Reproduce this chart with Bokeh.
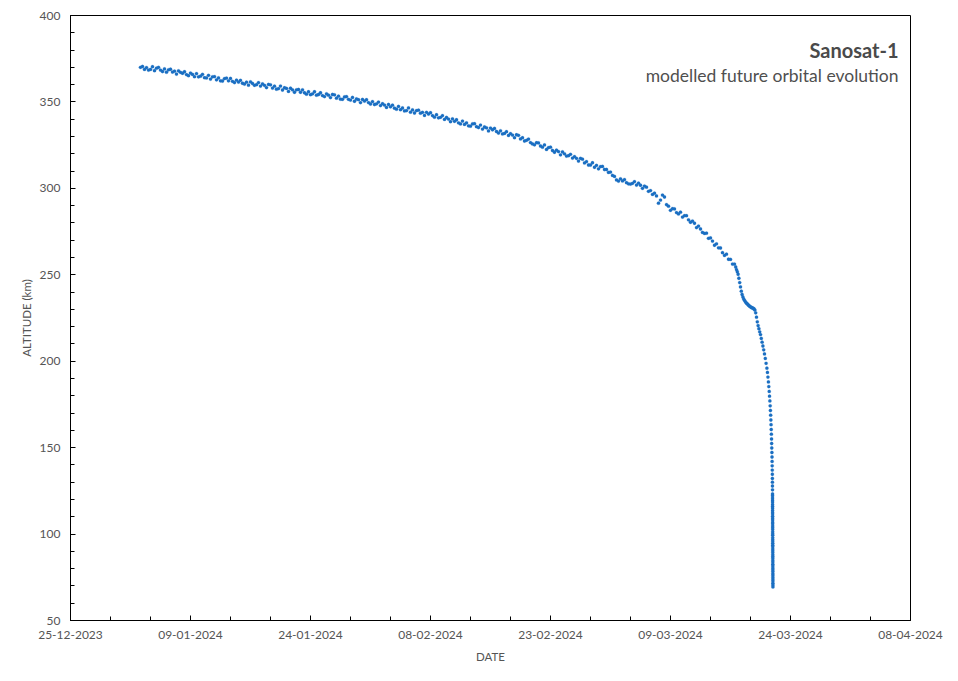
import datetime as dt
from bokeh.plotting import figure
from bokeh.models import FixedTicker, DatetimeTickFormatter, Label, ColumnDataSource, Range1d
from bokeh.embed import file_html
from bokeh.resources import INLINE

# ---------------- data ----------------
title_text = "Sanosat-1"
subtitle_text = "modelled future orbital evolution"
x_label = "DATE"
y_label = "ALTITUDE (km)"

x_tick_labels = ["25-12-2023", "09-01-2024", "24-01-2024", "08-02-2024",
                 "23-02-2024", "09-03-2024", "24-03-2024", "08-04-2024"]
y_ticks = [50, 100, 150, 200, 250, 300, 350, 400]

# modelled altitude (km), one value every 6 hours from 2024-01-02 18:00
main_start = "2024-01-02 18:00"
main_step_hours = 6
main_alt = [
    370.0,
    370.5, 368.8, 369.9, 368.4,
    368.8, 370.4, 368.1, 369.5,
    370.0, 368.4, 367.6, 369.1,
    367.2, 368.6, 368.9, 367.3,
    367.8, 366.1, 368.0, 367.1,
    366.6, 367.5, 365.8, 365.2,
    366.7, 365.9, 364.6, 366.4,
    364.5, 364.9, 366.0, 364.0,
    363.9, 365.4, 363.2, 364.5,
    364.7, 362.8, 363.9, 362.2,
    362.1, 363.5, 363.8, 362.2,
    363.6, 361.9, 361.2, 362.6,
    361.5, 362.5, 360.8, 360.3,
    361.4, 359.7, 361.6, 360.7,
    359.6, 360.0, 361.2, 359.2,
    360.4, 359.6, 358.3, 360.1,
    359.9, 358.0, 359.1, 357.4,
    357.7, 359.2, 356.9, 358.2,
    357.8, 356.1, 357.9, 357.0,
    355.6, 357.0, 357.2, 355.6,
    357.0, 355.3, 354.5, 355.9,
    354.2, 354.7, 355.9, 353.9,
    354.3, 355.3, 353.7, 353.1,
    354.7, 353.9, 352.5, 354.3,
    354.1, 352.2, 353.3, 351.6,
    351.5, 352.9, 353.1, 351.5,
    351.1, 352.6, 350.4, 351.7,
    351.3, 349.6, 351.4, 350.5,
    351.3, 349.6, 348.8, 350.2,
    348.5, 348.9, 349.9, 347.9,
    349.0, 348.2, 346.8, 348.5,
    347.2, 348.1, 346.4, 345.8,
    347.4, 345.5, 346.5, 344.8,
    345.0, 346.5, 344.1, 345.4,
    343.6, 345.0, 345.2, 343.5,
    344.0, 342.2, 344.0, 343.0,
    343.8, 342.1, 341.2, 342.6,
    340.8, 341.1, 342.1, 339.9,
    341.0, 340.1, 338.6, 340.2,
    338.8, 339.7, 337.9, 337.3,
    338.9, 337.0, 337.9, 336.2,
    336.0, 337.3, 337.4, 335.7,
    335.2, 336.6, 334.3, 335.5,
    335.0, 333.2, 334.9, 333.9,
    334.7, 332.9, 332.0, 333.3,
    331.5, 331.8, 332.8, 330.6,
    331.7, 330.8, 329.3, 331.0,
    330.7, 328.6, 329.3, 327.4,
    327.8, 328.5, 326.5, 325.7,
    325.2, 326.4, 326.3, 324.5,
    323.8, 325.1, 322.5, 323.6,
    323.8, 321.9, 320.9, 322.1,
    321.3, 319.4, 321.1, 320.0,
    318.7, 318.9, 319.7, 317.5,
    318.4, 317.4, 315.8, 317.4,
    316.9, 314.7, 315.5, 313.5,
    313.5, 314.8, 312.2, 313.3,
    311.3, 312.6, 312.7, 310.9,
    310.9, 309.2, 309.4, 307.5,
    306.9, 304.9, 304.2, 305.5,
    304.3, 305.1, 303.3, 302.6,
    302.5, 302.9, 303.9, 301.9,
    303.0, 301.8, 300.0, 301.3,
    300.7, 298.3, 298.7, 296.5,
    297.2, 295.6, 291.4, 293.2,
    296.1, 295.0, 290.6, 289.7,
    287.3, 288.3, 288.1, 286.0,
    285.2, 286.2, 283.4, 284.2,
    284.2, 281.8, 280.4, 281.1,
    279.8, 277.3, 278.2, 276.5,
    274.5, 273.9, 274.1, 271.1,
    271.3, 269.5, 267.1, 267.9,
    265.6, 265.5, 262.8, 261.2,
    261.9, 259.0, 258.9, 256.2,
    256.2,
]

# final decay: days since 2023-12-25 and altitude (km), paired one to one
tail_day = [
    83.15, 83.25, 83.35, 83.45, 83.55, 83.65, 83.75, 83.85, 83.95, 84.05,
    84.15, 84.25, 84.35, 84.45, 84.55, 84.65, 84.75, 84.85, 84.95, 85.05,
    85.15, 85.25, 85.35, 85.45, 85.55, 85.65, 85.75, 85.85, 85.95, 86.05,
    86.15, 86.25, 86.35, 86.45, 86.55, 86.65, 86.75, 86.85, 86.95, 87.05,
    87.12, 87.18, 87.24, 87.29, 87.34, 87.38, 87.42, 87.46, 87.49, 87.52,
    87.545, 87.57, 87.59, 87.61, 87.63, 87.645, 87.66, 87.675, 87.69, 87.70,
    87.71, 87.72, 87.73, 87.735, 87.74, 87.745, 87.75,
    87.755, 87.756, 87.757, 87.758, 87.759, 87.760, 87.761, 87.762, 87.763, 87.764,
    87.765, 87.766, 87.767, 87.768, 87.769, 87.770, 87.771, 87.772, 87.773, 87.774,
    87.775, 87.776, 87.777, 87.778, 87.779, 87.780, 87.781, 87.782, 87.783, 87.784,
    87.785, 87.786, 87.787, 87.788, 87.789, 87.790, 87.791, 87.792, 87.793, 87.794,
    87.795, 87.796, 87.797, 87.798, 87.799, 87.800, 87.801, 87.802, 87.803,
]
tail_alt = [
    254.5, 253.0, 251.8, 250.3, 248.0, 245.5, 243.0, 240.5, 238.6, 237.2,
    236.0, 235.2, 234.5, 233.8, 233.4, 232.9, 232.4, 232.0, 231.6, 231.3,
    231.0, 230.8, 230.6, 230.2, 229.6, 228.0, 225.5, 222.8, 220.6, 218.8,
    217.0, 215.4, 213.2, 211.0, 208.8, 206.6, 204.2, 201.6, 198.8, 196.0,
    193.5, 190.8, 188.0, 185.3, 182.5, 179.8, 177.0, 174.2, 171.5, 168.8,
    166.0, 163.3, 160.5, 157.8, 155.0, 152.4, 149.8, 147.2, 144.6, 142.0,
    139.5, 137.0, 134.6, 132.2, 130.0, 127.8, 125.6,
    123.2, 122.1, 120.8, 119.6, 118.5, 117.1, 116.0, 115.0, 113.7, 112.6,
    111.6, 110.3, 109.2, 108.2, 106.9, 105.9, 104.7, 103.6, 102.6, 101.3,
    100.2, 99.3, 98.0, 96.9, 95.9, 94.7, 93.6, 92.6, 91.4, 90.3,
    89.3, 88.1, 87.0, 86.0, 84.8, 83.8, 82.6, 81.6, 80.4, 79.4,
    78.3, 77.1, 76.1, 74.9, 73.8, 72.8, 71.6, 70.5, 69.4,
]
tail_epoch = "2023-12-25"

# ---------------- build ----------------
def ms(d):
    return (d - dt.datetime(1970, 1, 1)).total_seconds() * 1000.0

t0 = dt.datetime.strptime(main_start, "%Y-%m-%d %H:%M")
xs = [ms(t0 + dt.timedelta(hours=main_step_hours * i)) for i in range(len(main_alt))]
te = dt.datetime.strptime(tail_epoch, "%Y-%m-%d")
xs += [ms(te + dt.timedelta(days=d)) for d in tail_day]
ys = list(main_alt) + list(tail_alt)
n = min(len(xs), len(ys))

src = ColumnDataSource(dict(x=xs[:n], y=ys[:n]))

tick_dates = [dt.datetime.strptime(s, "%d-%m-%Y") for s in x_tick_labels]
x_major = [ms(d) for d in tick_dates]
x_minor = []
for a, b in zip(tick_dates[:-1], tick_dates[1:]):
    d = a
    while d < b:
        x_minor.append(ms(d))
        d += dt.timedelta(days=5)
x_minor.append(ms(tick_dates[-1]))

y_minor = list(range(y_ticks[0], y_ticks[-1] + 1, 10))

FONT = "Lato"
TXT = "#555555"

p = figure(width=950, height=675, output_backend="svg", toolbar_location=None,
           x_axis_type="datetime",
           x_range=Range1d(x_major[0], x_major[-1]),
           y_range=Range1d(y_ticks[0], y_ticks[-1]),
           min_border_left=70, min_border_right=40, min_border_top=15, min_border_bottom=55)

p.scatter("x", "y", source=src, size=3.3, fill_color="#1a6ec2", line_color="#1a6ec2",
          line_width=0.2)

p.grid.visible = False
p.outline_line_color = "black"
p.outline_line_width = 1
p.outline_line_alpha = 1
p.background_fill_color = "white"
p.border_fill_color = "white"

p.xaxis.ticker = FixedTicker(ticks=x_major, minor_ticks=x_minor)
p.xaxis.formatter = DatetimeTickFormatter(
    milliseconds="%d-%m-%Y", seconds="%d-%m-%Y", minsec="%d-%m-%Y", minutes="%d-%m-%Y",
    hourmin="%d-%m-%Y", hours="%d-%m-%Y", days="%d-%m-%Y", months="%d-%m-%Y", years="%d-%m-%Y")
p.yaxis.ticker = FixedTicker(ticks=y_ticks, minor_ticks=y_minor)

for ax in (p.xaxis[0], p.yaxis[0]):
    ax.axis_line_color = "black"
    ax.axis_line_width = 1
    ax.major_tick_in = 5
    ax.major_tick_out = 0
    ax.minor_tick_in = 4
    ax.minor_tick_out = 0
    ax.major_tick_line_color = "black"
    ax.minor_tick_line_color = "black"
    ax.major_label_text_font = FONT
    ax.major_label_text_font_size = "12px"
    ax.major_label_text_color = TXT
    ax.axis_label_text_font = FONT
    ax.axis_label_text_font_size = "11.5px"
    ax.axis_label_text_font_style = "normal"
    ax.axis_label_text_color = TXT

p.xaxis.axis_label = x_label
p.yaxis.axis_label = y_label
p.xaxis.major_label_standoff = 10
p.xaxis.axis_label_standoff = 8
p.yaxis.major_label_standoff = 10
p.yaxis.axis_label_standoff = 4

p.add_layout(Label(x=828, y=571, x_units="screen", y_units="screen", text=title_text,
                   text_align="right", text_baseline="alphabetic", text_font=FONT,
                   text_font_size="20px", text_font_style="bold", text_color="#4a4a4a"))
p.add_layout(Label(x=828, y=545, x_units="screen", y_units="screen", text=subtitle_text,
                   text_align="right", text_baseline="alphabetic", text_font=FONT,
                   text_font_size="17.5px", text_color="#4f4f4f"))

open("out.html", "w").write(file_html(p, INLINE))
